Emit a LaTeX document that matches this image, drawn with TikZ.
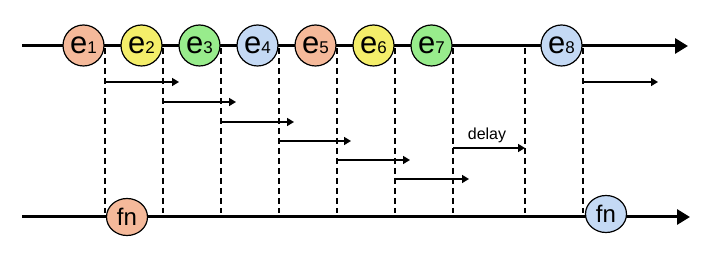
\documentclass[tikz,border=0pt]{standalone}
\usepackage{fontspec}
\setmainfont{Liberation Sans}
\usetikzlibrary{arrows.meta,shapes.geometric}

\definecolor{evorange}{HTML}{F5B99A}
\definecolor{evyellow}{HTML}{F4EE6A}
\definecolor{evgreen}{HTML}{98EC8C}
\definecolor{evblue}{HTML}{C4D9F4}

\newcommand{\evlab}[1]{{\fontsize{31}{31}\selectfont e}{\fontsize{17}{17}\selectfont #1}}

\begin{document}
\begin{tikzpicture}[
  x=1pt,y=-1pt,
  event/.style={circle, draw=black, line width=1.2pt, minimum size=41pt, inner sep=0pt},
  fnnode/.style={ellipse, draw=black, line width=1.2pt, minimum width=41pt, minimum height=37pt,
    inner sep=0pt, font=\fontsize{24}{24}\selectfont},
  mainline/.style={-{Triangle[length=13pt,width=15pt]}, line width=3pt},
  vguide/.style={draw=black, line width=1.5pt, dash pattern=on 6pt off 4pt},
  hop/.style={-{Triangle[length=7pt,width=8pt]}, line width=1.6pt},
  note/.style={font=\fontsize{16}{16}\selectfont}
]
\path[use as bounding box] (0,0) rectangle (712,264);

% Time lines
\coordinate (tstart) at (22,46);
\coordinate (tend)   at (688,46);
\coordinate (bstart) at (22,217);
\coordinate (bend)   at (690,217);

% Dashed guides at each event's right edge
\foreach \i/\x in {1/105,2/163,3/221,4/279,5/337,6/395,7/453,8/525,9/583} {
  \coordinate (dt\i) at (\x,48);
  \coordinate (db\i) at (\x,213);
  \draw[vguide] (dt\i) -- (db\i);
}

% Short arrows after each event
\foreach \i/\x/\y/\l in {1/105/82/74,2/163/102/73,3/221/122/73,4/279/141/72,
                         5/337/160/73,6/395/179/74,7/453/148/72,8/583/82/75} {
  \coordinate (a\i) at (\x,\y);
  \coordinate (b\i) at (\x+\l,\y);
  \draw[hop] (a\i) -- (b\i);
}
\node[note] (delay) at (487,135) {delay};

\draw[mainline] (tstart) -- (tend);
\draw[mainline] (bstart) -- (bend);

% Events
\foreach \i/\x/\c in {1/83.5/evorange,2/141.5/evyellow,3/199.5/evgreen,4/257.5/evblue,
                      5/315.5/evorange,6/373.5/evyellow,7/431.5/evgreen,8/561.5/evblue} {
  \node[event, fill=\c] (e\i) at (\x,45.5) {\evlab{\i}};
}

% Handler calls
\node[fnnode, fill=evorange] (fn1) at (127,217) {fn};
\node[fnnode, fill=evblue]   (fn2) at (606,214) {fn};

\end{tikzpicture}
\end{document}
